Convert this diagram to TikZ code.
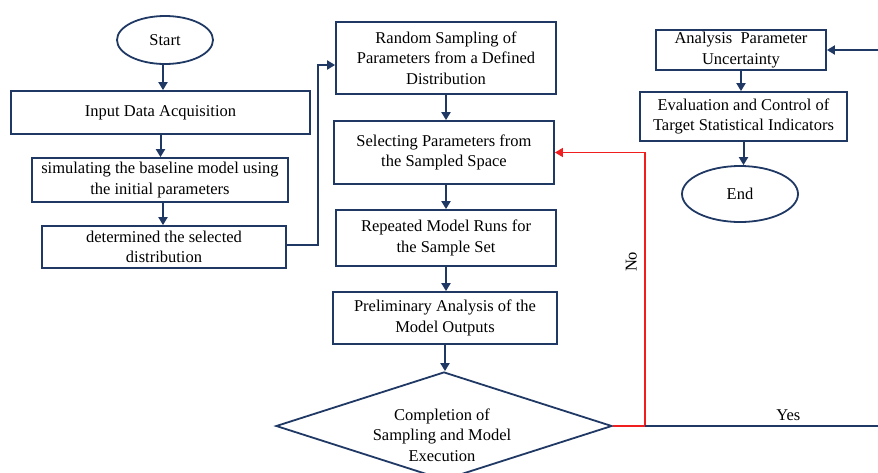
\documentclass[tikz,border=0pt]{standalone}
\usepackage{fontspec}
\setmainfont{Liberation Serif}
\usetikzlibrary{arrows.meta,shapes.geometric}
\definecolor{navy}{RGB}{31,56,100}
\definecolor{nored}{RGB}{240,30,30}
\tikzset{
  box/.style={draw=navy, line width=1.8pt, align=center, inner sep=1pt,
    font=\fontsize{16.5}{20.5}\selectfont},
  oval/.style={box, ellipse},
  arr/.style={navy, line width=2pt, -{Triangle[width=9pt,length=8pt]}},
  lbl/.style={align=center, font=\fontsize{16.5}{20.5}\selectfont},
}
\begin{document}
\begin{tikzpicture}[x=1pt,y=-1pt]
        % 画布
        \path[use as bounding box] (0,0) rectangle (878,472);
        \clip (0,0) rectangle (878,472);

        % 左列
        \node[oval, minimum width=96, minimum height=48] (start) at (165,40) {Start};
        \node[box, minimum width=299, minimum height=43] (input) at (160.5,112.5) {Input Data Acquisition};
        \node[box, minimum width=256, minimum height=44] (simul) at (160,180) {simulating the baseline model using\\the initial parameters};
        \node[box, minimum width=244, minimum height=42] (distr) at (164,247) {determined the selected\\distribution};

        % 中列
        \node[box, minimum width=220, minimum height=72] (rsamp) at (446,58) {Random Sampling of\\Parameters from a Defined\\Distribution};
        \node[box, minimum width=220, minimum height=63] (select) at (444,152.5) {Selecting Parameters from\\the Sampled Space};
        \node[box, minimum width=220, minimum height=56] (runs) at (446,238) {Repeated Model Runs for\\the Sample Set};
        \node[box, minimum width=224, minimum height=52] (prelim) at (445,318) {Preliminary Analysis of the\\Model Outputs};
        \node[box, diamond, aspect=3.1, inner sep=0pt, minimum width=336, minimum height=108] (check) at (444,426) {};
        \node[lbl] (checktext) at (442,435) {Completion of\\Sampling and Model\\Execution};

        % 右列
        \node[box, minimum width=170, minimum height=40] (analysis) at (741,50) {Analysis\ \ Parameter\\Uncertainty};
        \node[box, minimum width=207, minimum height=49] (evalu) at (743.5,116.5) {Evaluation and Control of\\Target Statistical Indicators};
        \node[oval, minimum width=116, minimum height=56] (finish) at (740,194) {End};

        % 连线
        \draw[arr] ([xshift=-2pt]start.south) -- ([xshift=-2pt]start.south |- input.north);
        \draw[arr] (input.south) -- (input.south |- simul.north);
        \draw[arr] ([xshift=3pt]simul.south) -- ([xshift=3pt]simul.south |- distr.north);
        \draw[arr] ([yshift=2pt]distr.east) -- ++(31,0) |- ([yshift=-7pt]rsamp.west);
        \draw[arr] (rsamp.south) -- (rsamp.south |- select.north);
        \draw[arr] ([xshift=2pt]select.south) -- ([xshift=2pt]select.south |- runs.north);
        \draw[arr] (runs.south) -- (runs.south |- prelim.north);
        \draw[arr] (prelim.south) -- (prelim.south |- check.north);
        \draw[arr] (analysis.south) -- (analysis.south |- evalu.north);
        \draw[arr] (evalu.south) -- (evalu.south |- finish.north);

        % 判断分支
        \coordinate (edgeyes) at (880,426);
        \coordinate (edgein) at (analysis.east -| edgeyes);
        \draw[arr, nored, line width=1.6pt] (check.east) -- ++(32,0) coordinate (turn) |- (select.east)
            node[pos=0.3, left=4pt, rotate=90, anchor=south, black, lbl] {No};
        \draw[navy, line width=2pt] (turn) -- (edgeyes)
            node[pos=0.61, above=1pt, black, lbl] {Yes};
        \draw[arr] (edgein) -- (analysis.east);
    \end{tikzpicture}
\end{document}
